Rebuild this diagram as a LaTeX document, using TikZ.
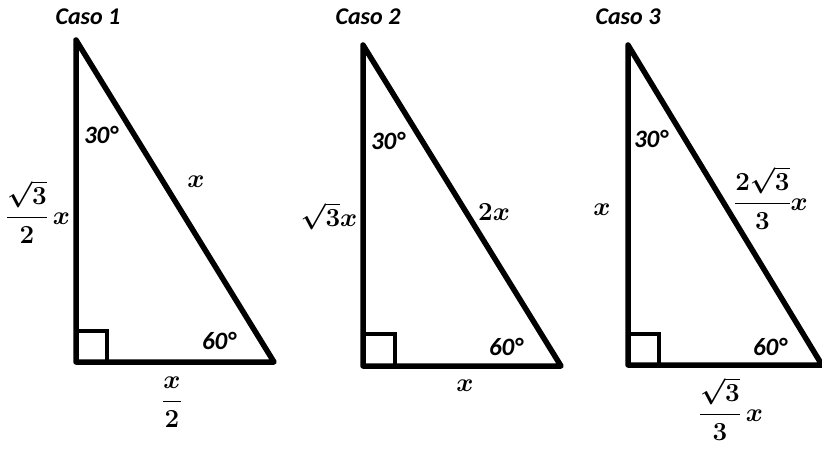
\documentclass[tikz,border=0pt]{standalone}
\usepackage{fix-cm}
\usepackage{amsmath}
\usepackage{fontspec}
\setmainfont{Carlito}
\tikzset{
  tri/.style={line width=5.5pt, line join=round},
  sq/.style={line width=4pt},
  capt/.style={font=\fontsize{24}{28}\selectfont\bfseries\itshape, inner sep=0pt},
  ang/.style={font=\fontsize{25}{28}\selectfont\bfseries\itshape, inner sep=0pt},
  mlab/.style={font=\fontsize{26}{30}\selectfont\boldmath, inner sep=0pt}
}
\begin{document}
\begin{tikzpicture}[x=1pt,y=-1pt]
\useasboundingbox (0,0) rectangle (822,448);
% Caso 1
\coordinate (a1) at (76,40);
\coordinate (b1) at (76,362);
\coordinate (c1) at (274,362);
\draw[sq] (76,362) rectangle (107,331);
\draw[tri] (a1) -- (b1) -- (c1) -- cycle;
\node[capt] (k1) at (88,17) {Caso 1};
\node[ang] (p1) at (101,135) {30°};
\node[ang] (q1) at (219,341) {60°};
\node[mlab] (h1) at (196,182) {$x$};
\node[mlab] (v1) at (38,212) {$\dfrac{\sqrt{3}}{2}\,x$};
\node[mlab] (w1) at (172,402) {$\dfrac{x}{2}$};
% Caso 2
\coordinate (a2) at (363,45);
\coordinate (b2) at (363,366);
\coordinate (c2) at (561,366);
\draw[sq] (363,366) rectangle (395,334);
\draw[tri] (a2) -- (b2) -- (c2) -- cycle;
\node[capt] (k2) at (368,17) {Caso 2};
\node[ang] (p2) at (388,141) {30°};
\node[ang] (q2) at (506,347) {60°};
\node[mlab] (h2) at (494,212) {$2x$};
\node[mlab] (v2) at (329,216) {$\sqrt{3}x$};
\node[mlab] (w2) at (465,386) {$x$};
% Caso 3
\coordinate (a3) at (628,45);
\coordinate (b3) at (628,365);
\coordinate (c3) at (822,365);
\draw[sq] (628,365) rectangle (659,334);
\draw[tri] (a3) -- (b3) -- (c3) -- cycle;
\node[capt] (k3) at (628,17) {Caso 3};
\node[ang] (p3) at (651,139) {30°};
\node[ang] (q3) at (770,347) {60°};
\node[mlab] (h3) at (771,198) {$\dfrac{2\sqrt{3}}{3}x$};
\node[mlab] (v3) at (602,210) {$x$};
\node[mlab] (w3) at (731,409) {$\dfrac{\sqrt{3}}{3}\,x$};
\end{tikzpicture}
\end{document}
